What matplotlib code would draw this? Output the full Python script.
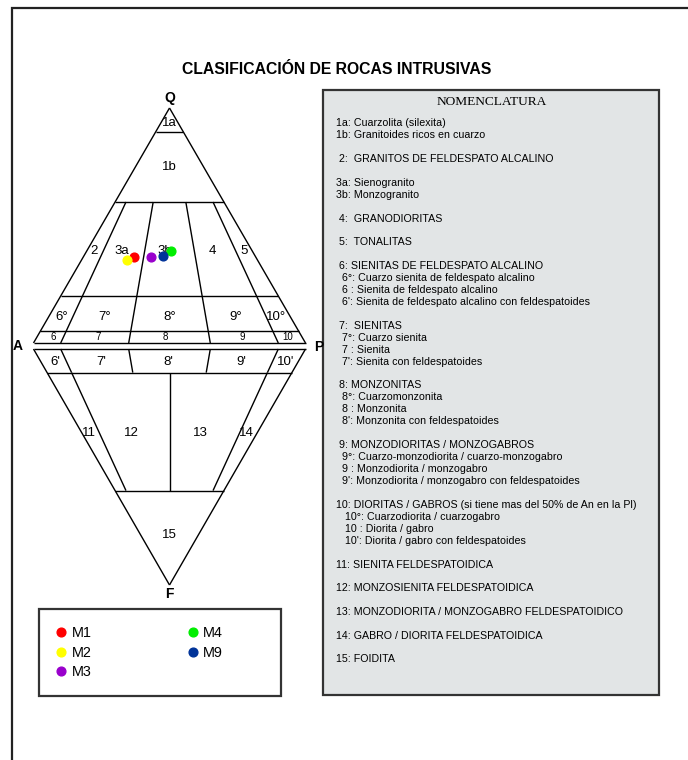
#%%
import matplotlib as mpl
from matplotlib import pyplot as plt
from matplotlib.patches import Rectangle

plt.rcParams.update(mpl.rcParamsDefault)
plt.rcParams.update({
    'font.family': 'Liberation Sans',
    'lines.solid_capstyle': 'butt',
})

# Muestras: composicion modal (%) Q - A - P
samples = ['M1', 'M2', 'M3', 'M4', 'M9']
q_vals = [36.5, 35.3, 36.7, 39.1, 37.0]
a_vals = [44.8, 48.1, 38.4, 29.9, 34.0]
p_vals = [18.7, 16.6, 24.9, 31.0, 29.0]
sample_colors = ['#ff0000', '#ffff00', '#9900cc', '#00ee00', '#003399']

# Limites de campos QAPF (%)
q_levels = [90, 60, 20, 5]          # lineas horizontales triangulo QAP
qap_ratios = [10, 35, 65, 90]       # P/(A+P), de Q=60 a Q=0
f_levels = [10, 60]                 # lineas horizontales triangulo APF
apf_ratios_top = [10, 35, 65, 90]   # de F=0 a F=10
apf_ratios_main = [10, 50, 90]      # de F=10 a F=60

# Etiquetas de campos: (texto, nivel Q o F en %, P/(A+P) en %)
qap_fields = [('1a', 93.5, 50), ('1b', 75, 50),
              ('2', 39, 4.5), ('3a', 39, 21), ('3b', 39, 47), ('4', 39, 76), ('5', 39, 95),
              ('6°', 11, 5.5), ('7°', 11, 23), ('8°', 11, 50), ('9°', 11, 77.5), ('10°', 11, 94)]
qap_small = [('6', 2.6, 6), ('7', 2.6, 23), ('8', 2.6, 48.5), ('9', 2.6, 77.5), ('10', 2.6, 94.5)]
apf_fields = [("6'", 5.3, 5.6), ("7'", 5.3, 23.5), ("8'", 5.3, 49.5), ("9'", 5.3, 78), ("10'", 5.3, 95),
              ('11', 35.6, 4), ('12', 35.6, 28), ('13', 35.6, 67.5), ('14', 35.6, 94), ('15', 79, 50)]

nomenclatura = [
    ['1a: Cuarzolita (silexita)', '1b: Granitoides ricos en cuarzo'],
    [' 2:  GRANITOS DE FELDESPATO ALCALINO'],
    ['3a: Sienogranito', '3b: Monzogranito'],
    [' 4:  GRANODIORITAS'],
    [' 5:  TONALITAS'],
    [' 6: SIENITAS DE FELDESPATO ALCALINO',
     '  6°: Cuarzo sienita de feldespato alcalino',
     '  6 : Sienita de feldespato alcalino',
     "  6': Sienita de feldespato alcalino con feldespatoides"],
    [' 7:  SIENITAS', '  7°: Cuarzo sienita', '  7 : Sienita', "  7': Sienita con feldespatoides"],
    [' 8: MONZONITAS', '  8°: Cuarzomonzonita', '  8 : Monzonita', "  8': Monzonita con feldespatoides"],
    [' 9: MONZODIORITAS / MONZOGABROS',
     '  9°: Cuarzo-monzodiorita / cuarzo-monzogabro',
     '  9 : Monzodiorita / monzogabro',
     "  9': Monzodiorita / monzogabro con feldespatoides"],
    ['10: DIORITAS / GABROS (si tiene mas del 50% de An en la Pl)',
     '   10°: Cuarzodiorita / cuarzogabro',
     '   10 : Diorita / gabro',
     "   10': Diorita / gabro con feldespatoides"],
    ['11: SIENITA FELDESPATOIDICA'],
    ['12: MONZOSIENITA FELDESPATOIDICA'],
    ['13: MONZODIORITA / MONZOGABRO FELDESPATOIDICO'],
    ['14: GABRO / DIORITA FELDESPATOIDICA'],
    ['15: FOIDITA'],
]

# Geometria del diagrama (pixeles de la figura)
CX, HW = 169.5, 136
Q_BASE, Q_H = 343, 235
F_TOP, F_H = 349, 236


def qap_xy(q, r):
    q, r = q / 100, r / 100
    return CX + HW * (1 - q) * (2 * r - 1), Q_BASE - Q_H * q


def apf_xy(f, r):
    f, r = f / 100, r / 100
    return CX + HW * (1 - f) * (2 * r - 1), F_TOP + F_H * f


def seg(func, p0, p1, **kw):
    x0, y0 = func(*p0)
    x1, y1 = func(*p1)
    ax.plot([x0, x1], [y0, y1], color='black', lw=1.0, **kw)


fig = plt.figure(figsize=(6.88, 7.6), dpi=100)
ax = fig.add_axes([0, 0, 1, 1])
ax.set_xlim(0, 688)
ax.set_ylim(760, 0)
ax.axis('off')

# marco exterior
ax.plot([12, 12, 688], [760, 8, 8], color='#222222', lw=1.6, solid_joinstyle='miter')

ax.text(336.5, 69, 'CLASIFICACIÓN DE ROCAS INTRUSIVAS', ha='center', va='center',
        fontsize=11.3, fontweight='bold')

# triangulo QAP
seg(qap_xy, (0, 0), (100, 50))
seg(qap_xy, (100, 50), (0, 100))
seg(qap_xy, (0, 0), (0, 100))
for q in q_levels:
    seg(qap_xy, (q, 0), (q, 100))
for r in qap_ratios:
    seg(qap_xy, (60, r), (0, r))

# triangulo APF
seg(apf_xy, (0, 0), (100, 50))
seg(apf_xy, (100, 50), (0, 100))
seg(apf_xy, (0, 0), (0, 100))
for f in f_levels:
    seg(apf_xy, (f, 0), (f, 100))
for r in apf_ratios_top:
    seg(apf_xy, (0, r), (10, r))
for r in apf_ratios_main:
    seg(apf_xy, (10, r), (60, r))

for txt, q, r in qap_fields:
    ax.text(*qap_xy(q, r), txt, ha='center', va='center', fontsize=9.5)
for txt, q, r in qap_small:
    ax.text(*qap_xy(q, r), txt, ha='center', va='center', fontsize=7)
for txt, f, r in apf_fields:
    ax.text(*apf_xy(f, r), txt, ha='center', va='center', fontsize=9.5)

vx, vy = qap_xy(100, 50)
ax.text(vx, vy - 10, 'Q', ha='center', va='center', fontsize=10, fontweight='bold')
vx, vy = apf_xy(100, 50)
ax.text(vx, vy + 9, 'F', ha='center', va='center', fontsize=10, fontweight='bold')
vx, vy = qap_xy(0, 0)
ax.text(vx - 16, vy + 3, 'A', ha='center', va='center', fontsize=10, fontweight='bold')
vx, vy = qap_xy(0, 100)
ax.text(vx + 13, vy + 4, 'P', ha='center', va='center', fontsize=10, fontweight='bold')

# muestras
for name, q, a, p, c in zip(samples, q_vals, a_vals, p_vals, sample_colors):
    tot = q + a + p
    x, y = qap_xy(100 * q / tot, 100 * p / (a + p))
    ax.plot(x, y, 'o', color=c, markersize=6.3, label=name, zorder=5)

# leyenda
ax.add_patch(Rectangle((38.5, 608.5), 242, 87, fill=False, ec='#333333', lw=1.6))
ax.legend(loc='upper left', bbox_to_anchor=(55.5, 626), bbox_transform=ax.transData,
          ncol=2, frameon=False, fontsize=10.4, handlelength=0.8, handletextpad=0.3,
          columnspacing=6.65, labelspacing=0.39, borderpad=0, borderaxespad=0)

# cuadro de nomenclatura
ax.add_patch(Rectangle((323, 90), 336, 605, fc='#e2e5e6', ec='#333333', lw=1.6))
ax.text(492, 102, 'NOMENCLATURA', ha='center', va='center', fontsize=9.6,
        family='Liberation Serif')
y = 123.5
for group in nomenclatura:
    for line in group:
        ax.text(336.5, y, line, ha='left', va='center', fontsize=7.7)
        y += 12
    y += 11.7

fig.savefig('out.png', dpi=100)
